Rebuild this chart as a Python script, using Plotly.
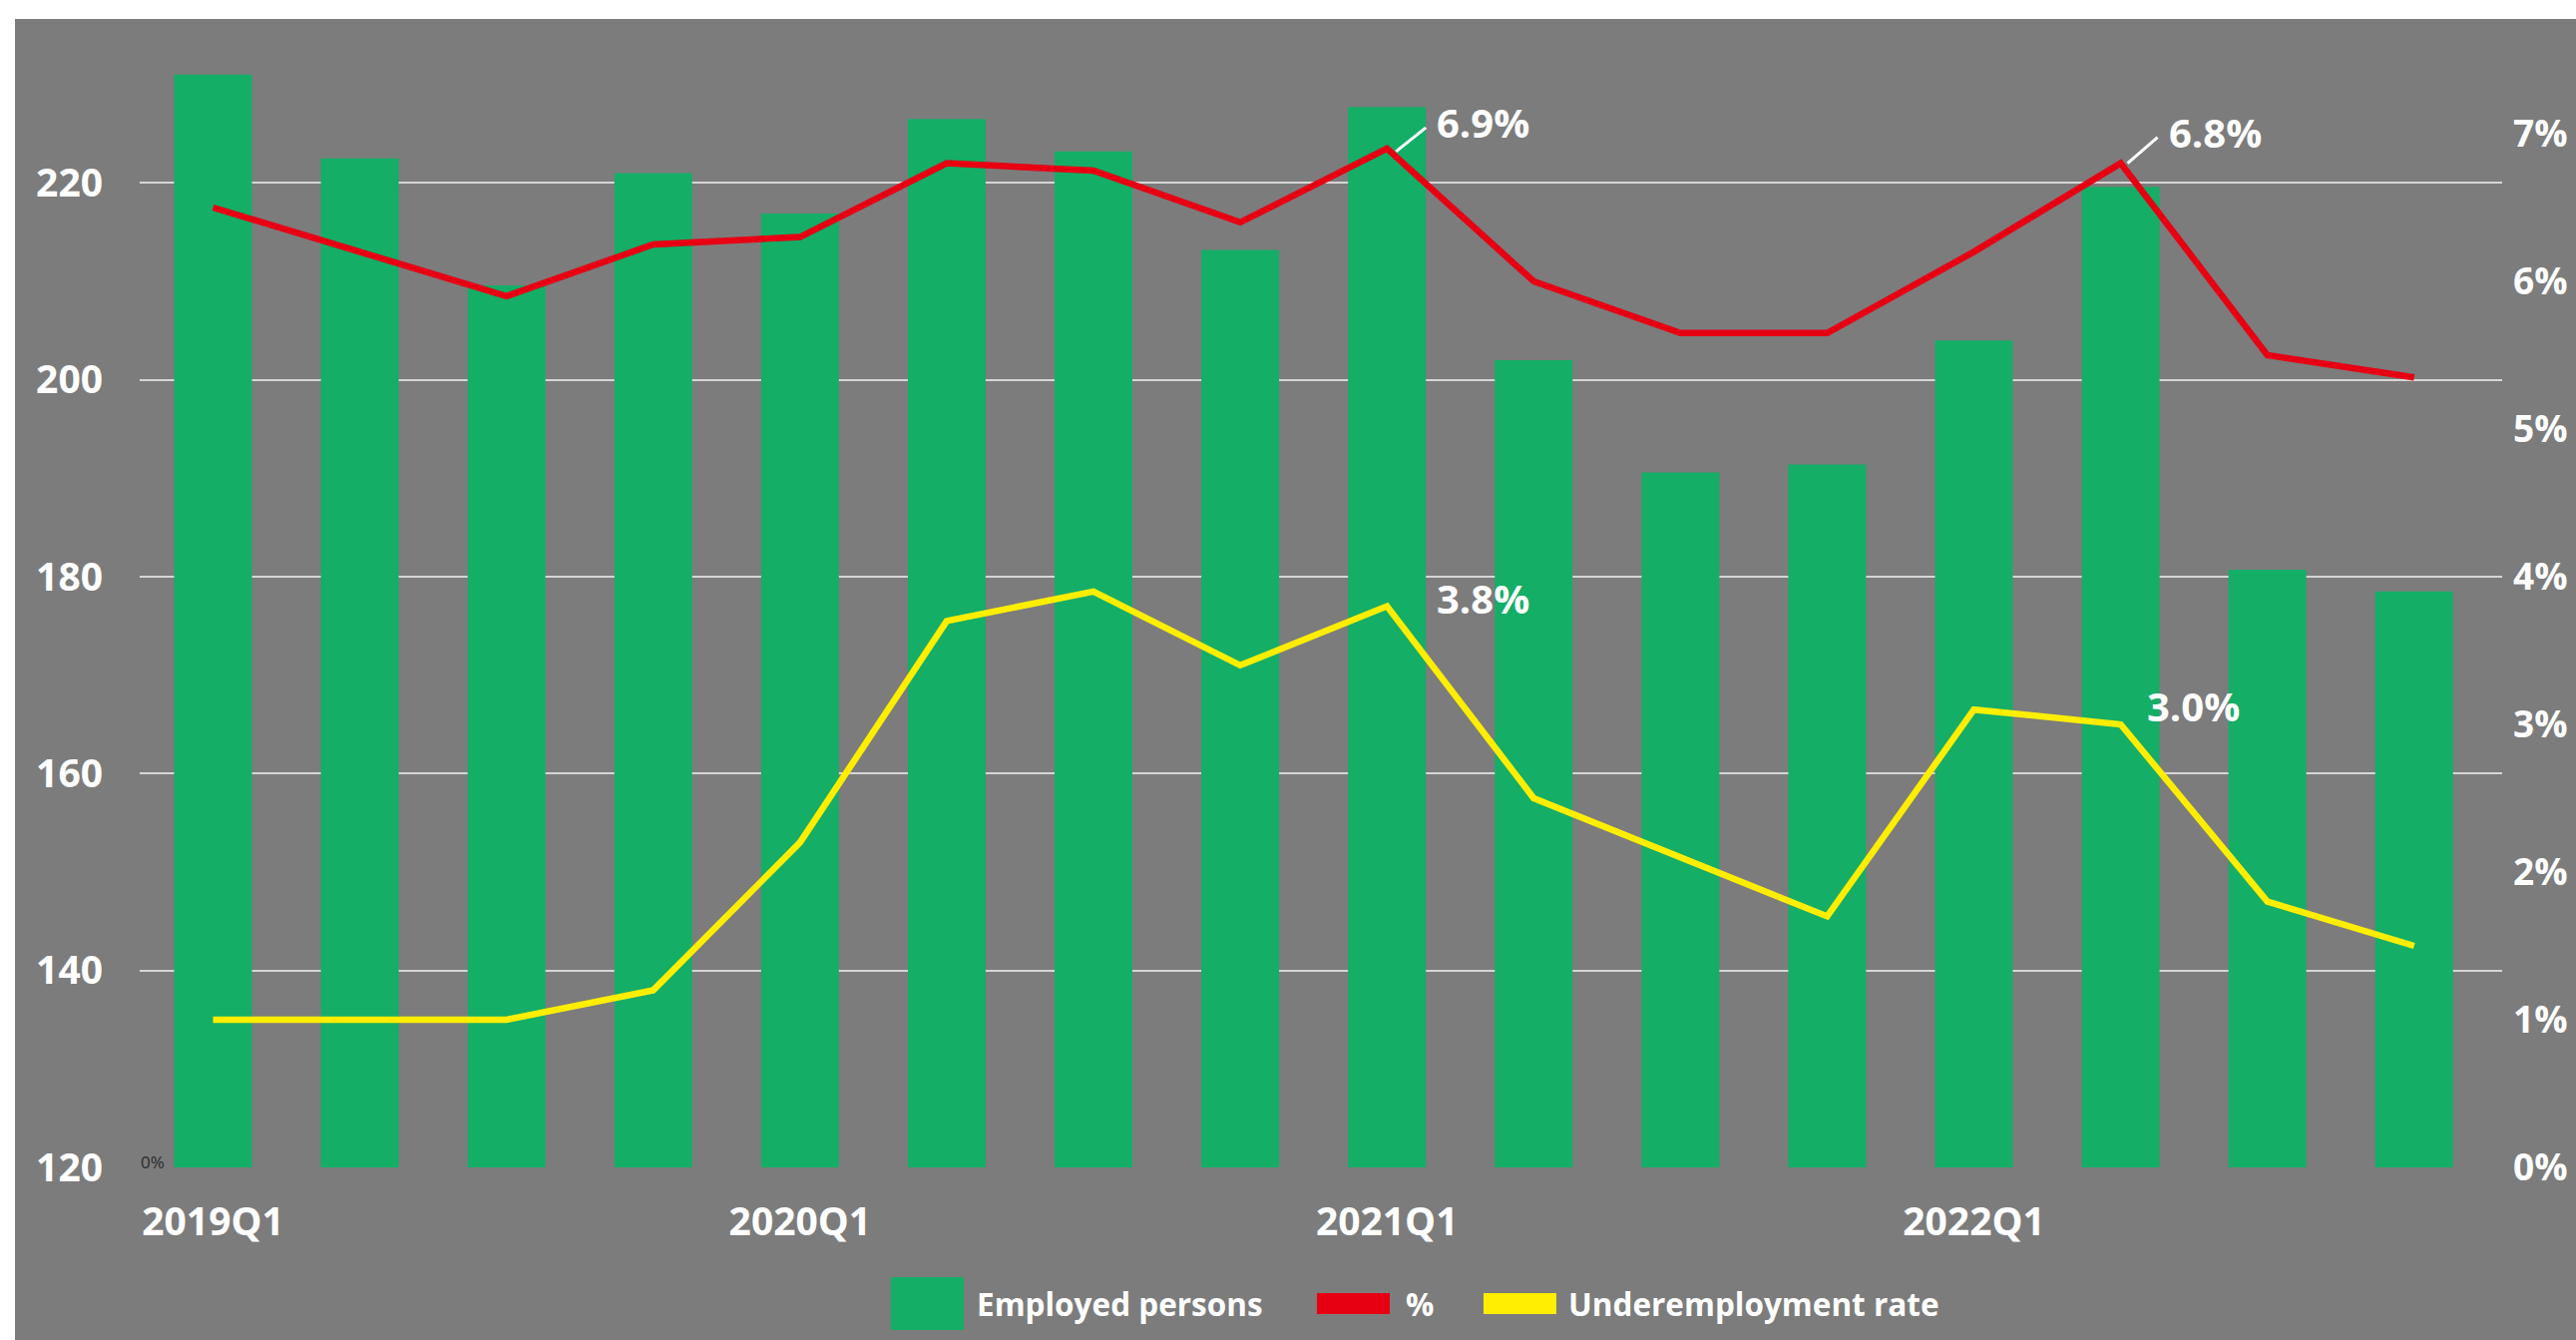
import plotly.graph_objects as go

# Quarterly categories and series
quarters = [f"{y}Q{q}" for y in (2019, 2020, 2021, 2022) for q in (1, 2, 3, 4)]
employed = [231.0, 222.5, 209.6, 221.0, 216.9, 226.5, 223.2, 213.2,
            227.7, 202.0, 190.6, 191.4, 204.0, 219.6, 180.7, 178.5]
pct = [6.5, 6.2, 5.9, 6.25, 6.3, 6.8, 6.75, 6.4,
       6.9, 6.0, 5.65, 5.65, 6.2, 6.8, 5.5, 5.35]
underemployment = [1.0, 1.0, 1.0, 1.2, 2.2, 3.7, 3.9, 3.4,
                   3.8, 2.5, 2.1, 1.7, 3.1, 3.0, 1.8, 1.5]
year_ticks = ["2019Q1", "2020Q1", "2021Q1", "2022Q1"]
left_ticks = [120, 140, 160, 180, 200, 220]
right_ticks = [0, 1, 2, 3, 4, 5, 6, 7]

GREEN = "#14AE67"
RED = "#E60012"
YELLOW = "#FFEE00"
BG = "#7c7c7c"
GRID = "#d6d6d6"
FONT = "Open Sans"

W, H = 2582, 1343
ML, MR, MT, MB = 140, 74, 60, 173
PW, PH = W - ML - MR, H - MT - MB


def px_x(px):
    return (px - ML) / PW


def px_y(py):
    return (H - MB - py) / PH


fig = go.Figure()
fig.add_trace(go.Bar(x=quarters, y=employed, name="Employed persons",
                     marker=dict(color=GREEN, line=dict(width=0)),
                     showlegend=False))
fig.add_trace(go.Scatter(x=quarters, y=pct, name="%", yaxis="y2",
                         mode="lines", line=dict(color=RED, width=6.5),
                         showlegend=False))
fig.add_trace(go.Scatter(x=quarters, y=underemployment,
                         name="Underemployment rate", yaxis="y2",
                         mode="lines", line=dict(color=YELLOW, width=6.5),
                         showlegend=False))

tick_font = dict(family=FONT, size=39, color="white", weight="bold")

fig.update_layout(
    width=W, height=H,
    margin=dict(l=ML, r=MR, t=MT, b=MB, pad=0, autoexpand=False),
    paper_bgcolor="white",
    plot_bgcolor="rgba(0,0,0,0)",
    bargap=0.47,
    xaxis=dict(type="category", range=[-0.5, 15.6], automargin=False,
               tickmode="array", tickvals=year_ticks, ticktext=year_ticks,
               showgrid=False, showline=False, zeroline=False,
               ticks="", tickfont=tick_font, ticklabelstandoff=28),
    yaxis=dict(range=[120, 232.5], tickmode="array", tickvals=left_ticks,
               automargin=False,
               showgrid=True, gridcolor=GRID, gridwidth=2,
               zeroline=False, showline=False, ticks="",
               tickfont=tick_font, ticklabelstandoff=36),
    yaxis2=dict(range=[0, 7.5], overlaying="y", side="right",
                automargin=False,
                tickmode="array", tickvals=right_ticks,
                ticktext=[f"{v}%" for v in right_ticks],
                showgrid=False, zeroline=False, showline=False, ticks="",
                tickfont=dict(family=FONT, size=37, color="white",
                              weight="bold"),
                ticklabelstandoff=10),
)

shapes = [
    # textured-grey backdrop panel
    dict(type="rect", xref="paper", yref="paper", layer="below",
         x0=px_x(15), x1=px_x(W + 5), y0=px_y(H + 5), y1=px_y(19),
         fillcolor=BG, line=dict(width=0)),
]

# leader lines for the peak labels of the "%" series
for idx, (dx0, dx1, dy0, dy1) in ((8, (9, 39, -3, 21)), (13, (7, 37, 0, 26))):
    shapes.append(dict(type="line", xref="x", yref="y2",
                       xsizemode="pixel", ysizemode="pixel",
                       xanchor=idx, yanchor=pct[idx],
                       x0=dx0, x1=dx1, y0=dy0, y1=dy1,
                       line=dict(color="white", width=3)))

# legend swatches
legend_items = [
    ("Employed persons", GREEN, 893, 966, 1280, 1333, 977),
    ("%", RED, 1320, 1393, 1296, 1317, 1407),
    ("Underemployment rate", YELLOW, 1487, 1560, 1296, 1317, 1570),
]
annotations = []
for label, color, x0, x1, y0, y1, tx in legend_items:
    shapes.append(dict(type="rect", xref="paper", yref="paper",
                       x0=px_x(x0), x1=px_x(x1), y0=px_y(y1), y1=px_y(y0),
                       fillcolor=color, line=dict(width=0)))
    annotations.append(dict(xref="paper", yref="paper", x=px_x(tx), y=px_y(1306),
                            xanchor="left", yanchor="middle", showarrow=False,
                            text=label,
                            font=dict(family=FONT, size=31.5, color="white",
                                      weight="bold")))

label_font = dict(family=FONT, size=40, color="white", weight="bold")
# value labels: (series, index, x shift, y shift)
for series, idx, xs, ys in ((pct, 8, 48, 26), (pct, 13, 46, 31),
                            (underemployment, 8, 48, 8),
                            (underemployment, 13, 24, 19)):
    annotations.append(dict(x=quarters[idx], y=series[idx], xref="x", yref="y2",
                            text=f"{series[idx]:.1f}%", showarrow=False,
                            xanchor="left", yanchor="middle",
                            xshift=xs, yshift=ys, font=label_font))

# small stray axis mark at the origin
annotations.append(dict(xref="paper", yref="paper", x=px_x(139), y=px_y(1164),
                        xanchor="left", yanchor="middle", showarrow=False,
                        text="0%", font=dict(family=FONT, size=17,
                                             color="#2a2a2a")))

fig.update_layout(shapes=shapes, annotations=annotations)
fig.write_html("out.html")
